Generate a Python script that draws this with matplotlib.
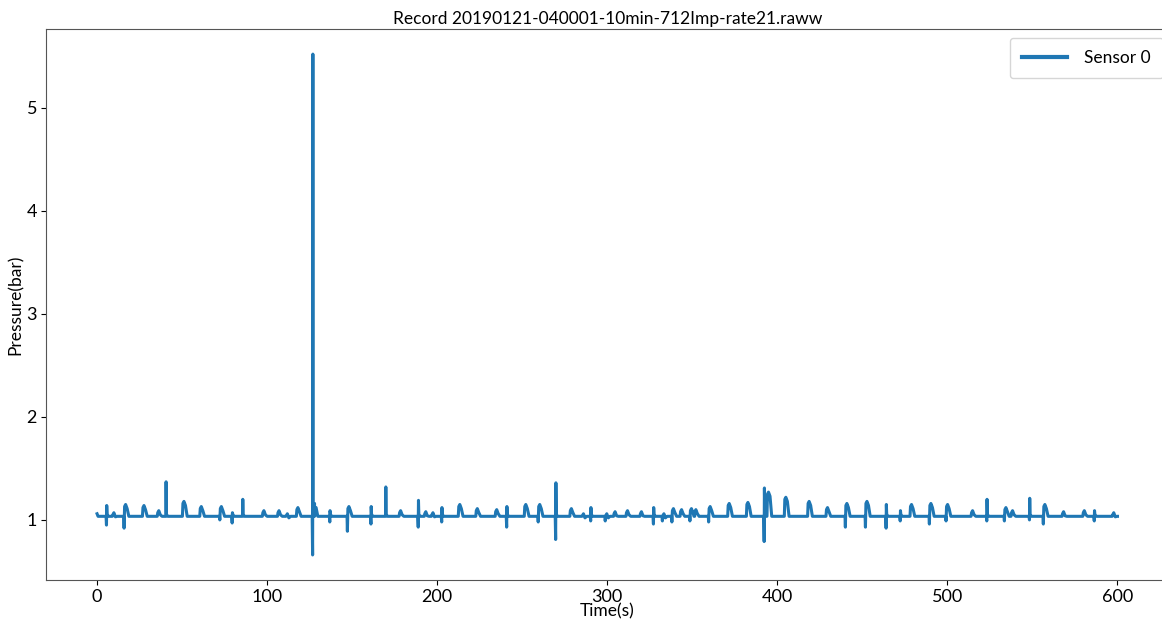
import matplotlib.pyplot as plt
import numpy as np

plt.rcParams["font.family"] = ["Lato", "DejaVu Sans"]

title = "Record 20190121-040001-10min-712Imp-rate21.raww"
baseline = 1.035
t_start, t_end = 0.0, 600.0
start_value = 1.06

# pressure events: time (s), peak (bar), dip (bar), kind (s=spike, b=bump)
event_t = [5.7, 9.6, 16.5, 27.3, 36.0, 40.6, 50.8, 61.0, 72.8, 79.6, 85.7, 97.8,
           106.7, 111.6, 117.8, 126.9, 127.6, 137.0, 147.8, 161.2, 169.8, 178.2, 189.0,
           193.0, 197.2, 202.8, 213.0, 223.3, 234.7, 241.0, 251.8, 260.0, 269.8, 278.6,
           285.7, 290.4, 299.4, 304.3, 311.6, 319.8, 327.3, 333.0, 338.6, 343.4, 349.2,
           351.8, 360.2, 371.4, 382.4, 392.4, 394.5, 404.7, 418.4, 429.2, 440.6, 452.4,
           464.1, 472.4, 478.6, 490.0, 499.8, 514.5, 523.3, 534.1, 538.0, 548.4, 557.0,
           568.0, 580.2, 586.5, 597.5]
event_peak = [1.14, 1.07, 1.15, 1.14, 1.09, 1.37, 1.18, 1.13, 1.13, 1.07, 1.20, 1.09,
              1.09, 1.06, 1.12, 5.52, 1.16, 1.09, 1.13, 1.13, 1.32, 1.09, 1.19,
              1.08, 1.07, 1.12, 1.15, 1.11, 1.10, 1.13, 1.15, 1.15, 1.36, 1.11,
              1.06, 1.12, 1.06, 1.08, 1.09, 1.08, 1.12, 1.06, 1.11, 1.10, 1.11,
              1.10, 1.13, 1.16, 1.17, 1.31, 1.27, 1.22, 1.18, 1.12, 1.16, 1.18,
              1.15, 1.09, 1.15, 1.16, 1.15, 1.09, 1.20, 1.12, 1.09, 1.21, 1.15,
              1.08, 1.09, 1.09, 1.07]
event_dip = [0.95, 1.035, 0.92, 1.035, 1.035, 1.035, 1.035, 1.035, 1.00, 0.97, 1.035, 1.035,
             1.035, 1.035, 1.035, 0.66, 1.035, 0.98, 0.89, 0.96, 1.035, 1.035, 0.93,
             1.035, 1.035, 0.98, 1.035, 1.035, 1.035, 0.93, 1.035, 0.98, 0.81, 1.035,
             1.035, 0.99, 0.99, 1.035, 1.035, 1.035, 0.96, 0.99, 0.98, 1.035, 0.99,
             1.035, 0.98, 1.035, 1.035, 0.79, 1.035, 1.035, 1.035, 1.035, 0.93, 0.93,
             0.92, 0.99, 1.035, 0.96, 0.99, 1.035, 0.99, 0.99, 1.035, 1.00, 0.96,
             1.035, 1.035, 0.99, 1.035]
event_kind = ["s", "b", "b", "b", "b", "s", "b", "b", "b", "s", "s", "b",
              "b", "b", "b", "s", "b", "s", "b", "s", "s", "b", "s",
              "b", "b", "s", "b", "b", "b", "s", "b", "b", "s", "b",
              "b", "s", "b", "b", "b", "b", "s", "b", "b", "b", "b",
              "b", "b", "b", "b", "s", "b", "b", "b", "b", "b", "b",
              "s", "s", "b", "b", "b", "b", "s", "b", "b", "s", "b",
              "b", "b", "s", "b"]


def build_trace():
    ts = [t_start, t_start + 0.6]
    ps = [start_value, baseline]
    for t, peak, dip, kind in zip(event_t, event_peak, event_dip, event_kind):
        if kind == "s":
            ts += [t - 0.4, t - 0.15, t, t + 0.2, t + 1.0]
            ps += [baseline, dip, peak, baseline + 0.02, baseline]
        else:
            ts += [t - 0.8, t - 0.6, t - 0.3, t + 0.3, t + 1.2, t + 2.2]
            ps += [baseline, dip, peak - 0.02, peak, peak - 0.04, baseline]
    ts.append(t_end)
    ps.append(baseline)
    ts = np.array(ts)
    ps = np.array(ps)
    order = np.argsort(ts, kind="stable")
    return ts[order], ps[order]


time_s, pressure = build_trace()

fig = plt.figure(figsize=(11.62, 6.19), dpi=100)
ax = fig.add_axes([0.0396, 0.063, 0.966, 0.890])
ax.plot(time_s, pressure, color="#1f77b4", linewidth=2.2, label="Sensor 0")

ax.set_xticks([0, 100, 200, 300, 400, 500, 600])
ax.set_yticks([1, 2, 3, 4, 5])
ax.tick_params(labelsize=13, pad=3)
ax.set_title(title, fontsize=12.5, pad=4)
ax.set_xlabel("Time(s)", fontsize=12.5, labelpad=-1)
ax.set_ylabel("Pressure(bar)", fontsize=12.5, labelpad=2)
for sp in ax.spines.values():
    sp.set_color("#555555")

leg = ax.legend(loc="upper right", fontsize=12.5, handlelength=2.6,
                handletextpad=1.0, borderpad=0.7, bbox_to_anchor=(1.003, 1.0))
for line in leg.get_lines():
    line.set_linewidth(3.0)

fig.savefig("out.png", dpi=100)
